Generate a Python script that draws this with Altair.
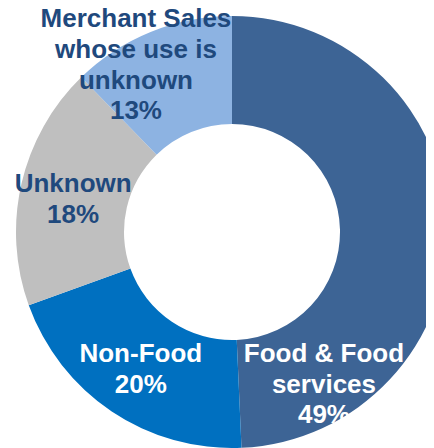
import altair as alt
import pandas as pd

categories = ["Food & Food services", "Non-Food", "Unknown", "Merchant Sales whose use is unknown"]
values = [49.3, 20.2, 18.2, 12.3]
pct_labels = ["49%", "20%", "18%", "13%"]
label_lines = [["Food & Food", "services"], ["Non-Food"], ["Unknown"], ["Merchant Sales", "whose use is", "unknown"]]
colors = ["#3D6495", "#0070C0", "#BFBFBF", "#8DB3E2"]
text_colors = ["#FFFFFF", "#FFFFFF", "#1F497D", "#1F497D"]
label_offsets = [(-70, 125.5), (-1, -12.6), (-1, -11.8), (-35, -62.7)]

total = sum(values)
df = pd.DataFrame({
    "category": categories,
    "value": values,
    "idx": list(range(len(categories))),
    "label": ["\n".join(l + [p]) for l, p in zip(label_lines, pct_labels)],
})

theta_scale = alt.Scale(domain=[0, total])
base = alt.Chart(df).transform_stack(
    stack="value", as_=["v0", "v1"], groupby=[], sort=[alt.SortField("idx", order="ascending")]
).transform_calculate(mid="(datum.v0 + datum.v1) / 2")

cx, cy = 224, 224
arcs = base.mark_arc(outerRadius=216, innerRadius=108, strokeWidth=0).encode(
    theta=alt.Theta("v0:Q", scale=theta_scale, stack=None),
    theta2="v1:Q",
    color=alt.Color("category:N", scale=alt.Scale(domain=categories, range=colors), legend=None),
    x=alt.value(cx),
    y=alt.value(cy),
)

texts = []
for i in range(len(categories)):
    dx, dy = label_offsets[i]
    t = base.transform_filter(alt.datum.idx == i).mark_text(
        radius=162, align="center", baseline="middle", font="Liberation Sans",
        fontSize=26, fontWeight="bold", lineBreak="\n", lineHeight=30.7,
        color=text_colors[i], dx=dx, dy=dy,
    ).encode(
        theta=alt.Theta("mid:Q", scale=theta_scale, stack=None),
        text="label:N",
        x=alt.value(cx),
        y=alt.value(cy),
    )
    texts.append(t)

chart = alt.layer(arcs, *texts).properties(
    width=418, height=440, autosize=alt.AutoSizeParams(type="none"), padding=0
).configure_view(stroke=None)

chart.save("out.html", embed_options={"renderer": "svg", "actions": False})
